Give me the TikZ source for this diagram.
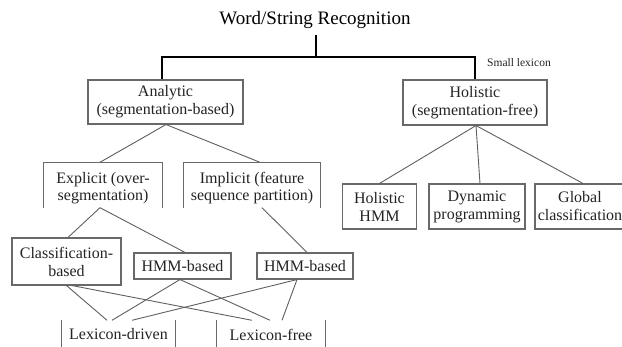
\documentclass[tikz,border=0pt]{standalone}
\usepackage{fontspec}
\setmainfont{Liberation Serif}
\usetikzlibrary{calc}
\definecolor{boxgray}{RGB}{105,105,105}
\definecolor{linegray}{RGB}{95,95,95}
\definecolor{txt}{RGB}{35,35,35}
\begin{document}
\begin{tikzpicture}[x=1pt,y=-1pt,
  box/.style={draw=boxgray, line width=1.1pt, inner sep=0pt, align=center, text=txt,
              font=\fontsize{16}{18}\selectfont},
  plain/.style={inner sep=0pt, align=center, text=txt, font=\fontsize{16}{17}\selectfont},
  frame/.style={draw=boxgray, line width=1.1pt},
  conn/.style={draw=linegray, line width=0.9pt},
  bar/.style={draw=black, line width=1.6pt},
]
\useasboundingbox (0,0) rectangle (622,347);
\clip (0,0) rectangle (622,347);

% title and top bar
\node[inner sep=0pt, font=\fontsize{19}{22}\selectfont] (title) at (315,20) {Word/String Recognition};
\coordinate (barTop) at (316,35);
\coordinate (barMid) at (316,57);
\coordinate (barL) at (162,57);
\coordinate (barR) at (475,57);

% level 1
\node[box, minimum width=155pt, minimum height=44pt] (ana) at (165.5,102) {Analytic\\(segmentation-based)};
\node[box, minimum width=144pt, minimum height=45pt] (hol) at (475,102.5) {Holistic\\(segmentation-free)};
\node[inner sep=0pt, anchor=base west, text=txt, font=\fontsize{11.5}{13}\selectfont] (small) at (487,67) {Small lexicon};

\draw[line width=2.4pt] (barTop) -- (barMid);
\draw[bar] (barL |- ana.north) -- (barL) -- (barR) -- (barR |- hol.north);

% level 2 (analytic): boxes open at the bottom
\node[plain, minimum width=118pt, minimum height=51pt] (expl) at (103,188) {Explicit (over-\\segmentation)};
\draw[frame] ([yshift=6pt]expl.south west) -- (expl.north west) -- (expl.north east) -- ([yshift=6pt]expl.south east);
\node[plain, minimum width=136pt, minimum height=51pt] (impl) at (252,188) {Implicit (feature\\sequence partition)};
\draw[frame] ([yshift=6pt]impl.south west) -- (impl.north west) -- (impl.north east) -- ([yshift=6pt]impl.south east);

% level 2 (holistic)
\node[box, minimum width=74pt, minimum height=45pt] (hhmm) at (379.5,206.5) {Holistic\\HMM};
\node[box, minimum width=96pt, minimum height=45pt] (dyn) at (477,206.5) {Dynamic\\programming};
\node[box, minimum width=90pt, minimum height=45pt] (glob) at (580,206.5) {Global\\classification};

% level 3
\node[box, minimum width=109pt, minimum height=47pt] (cls) at (66.5,261.5) {Classification-\\based};
\node[box, minimum width=97pt, minimum height=26pt] (hmma) at (182.5,266) {HMM-based};
\node[box, minimum width=96pt, minimum height=26pt] (hmmb) at (305,266) {HMM-based};

% level 4: only the side edges are visible
\node[plain, minimum width=113pt, minimum height=28pt] (lexd) at (118.5,334.5) {Lexicon-driven};
\draw[frame] (lexd.north west) -- (lexd.south west);
\draw[frame] (lexd.north east) -- (lexd.south east);
\node[plain, minimum width=108pt, minimum height=28pt] (lexf) at (271,334.5) {Lexicon-free};
\draw[frame] (lexf.north west) -- (lexf.south west);
\draw[frame] (lexf.north east) -- (lexf.south east);

% connectors
\draw[conn] ([xshift=0.5pt]ana.south) -- ([xshift=-3pt]expl.north);
\draw[conn] ([xshift=0.5pt]ana.south) -- ([xshift=8pt]impl.north);
\draw[conn] ([xshift=-3pt,yshift=6pt]expl.south) -- ([xshift=1.5pt]cls.north);
\draw[conn] ([xshift=-3pt,yshift=6pt]expl.south) -- ([xshift=2.5pt]hmma.north);
\draw[conn] ([xshift=10pt,yshift=6pt]impl.south) -- ([xshift=2pt]hmmb.north);

\draw[conn] ([xshift=1pt]hol.south) -- (hhmm.north);
\draw[conn] ([xshift=1pt]hol.south) -- ([xshift=3pt]dyn.north);
\draw[conn] ([xshift=1pt]hol.south) -- ([xshift=3pt]glob.north);

\draw[conn] (cls.south) -- ([xshift=-11.5pt]lexd.north);
\draw[conn] ([xshift=5.5pt]cls.south) -- ([xshift=-19pt]lexf.north);
\draw[conn] ([xshift=-2.5pt]hmma.south) -- ([xshift=-6.5pt]lexd.north);
\draw[conn] ([xshift=-2.5pt]hmma.south) -- ([xshift=-1pt]lexf.north);
\draw[conn] ([xshift=-8pt]hmmb.south) -- ([xshift=13.5pt]lexd.north);
\draw[conn] ([xshift=-8pt]hmmb.south) -- ([xshift=11pt]lexf.north);
\end{tikzpicture}
\end{document}
